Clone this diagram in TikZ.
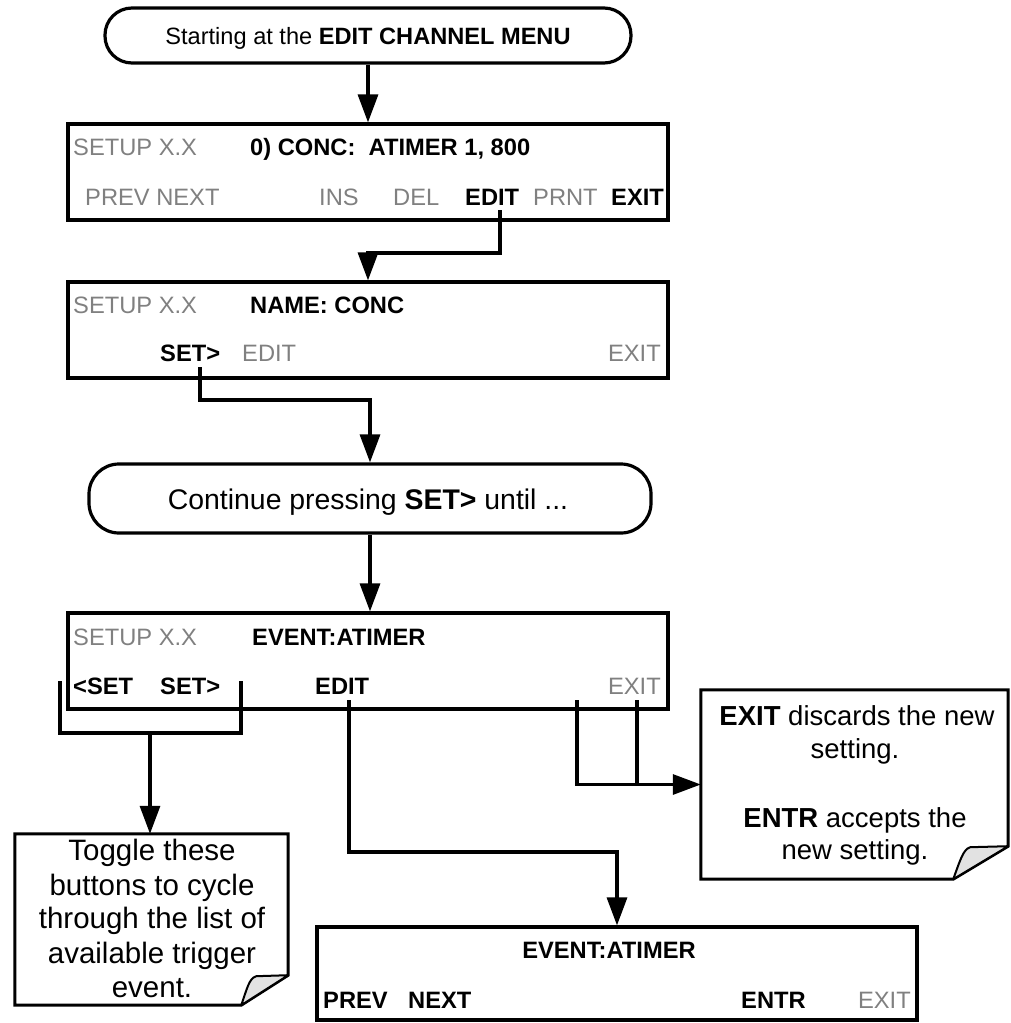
\documentclass[tikz,border=0pt]{standalone}
\usepackage{fontspec}
\setmainfont{Liberation Sans}
\usetikzlibrary{arrows.meta,calc}
\definecolor{lcdgray}{HTML}{808080}
\definecolor{foldgray}{HTML}{E2E2E2}
\begin{document}
\begin{tikzpicture}[x=1pt,y=-1pt,
  screen/.style={draw, line width=3.2pt, rectangle, minimum width=600pt, minimum height=96pt, inner sep=0pt},
  term/.style={draw, line width=3.2pt, rectangle, inner sep=0pt},
  lcdtext/.style={inner sep=0pt, font=\fontsize{23.7}{28}\selectfont},
  grtext/.style={lcdtext, text=lcdgray},
  bdtext/.style={inner sep=0pt, font=\fontsize{23.7}{28}\selectfont\bfseries},
  termtext/.style={inner sep=0pt, anchor=base},
  notebox/.style={rectangle, inner sep=0pt},
  noteline/.style={line width=3pt, line join=miter},
  foldline/.style={line width=2pt, fill=foldgray, line join=round},
  notetext/.style={inner sep=0pt, anchor=base, font=\fontsize{27.5}{32}\selectfont},
  toggletext/.style={inner sep=0pt, anchor=base, font=\fontsize{29.5}{34}\selectfont},
  conn/.style={line width=3.2pt},
  arr/.style={conn, -{Triangle[length=28pt,width=20pt]}}]
\useasboundingbox (0,0) rectangle (1010,1023);

% ---------- top terminator ----------
\node[term, rounded corners=27pt, minimum width=526pt, minimum height=55pt] (t1) at (368,35.5) {};
\node[termtext, font=\fontsize{23.6}{28}\selectfont] (t1txt) at (368,44) {Starting at the \textbf{EDIT CHANNEL MENU}};

% ---------- box 1 ----------
\node[screen] (b1) at (368,172) {};
\node[grtext, anchor=base west] (b1a) at (73,155.5) {SETUP X.X};
\node[bdtext, anchor=base west] (b1b) at (250,155.5) {0) CONC:\ \ ATIMER 1, 800};
\node[grtext, anchor=base west] (b1c) at (85,205.5) {PREV NEXT};
\node[grtext, anchor=base west] (b1d) at (319,205.5) {INS};
\node[grtext, anchor=base west] (b1e) at (393,205.5) {DEL};
\node[bdtext, anchor=base west] (b1edit) at (465,205.5) {EDIT};
\node[grtext, anchor=base west] (b1f) at (533,205.5) {PRNT};
\node[bdtext, anchor=base west] (b1g) at (611,205.5) {EXIT};

% ---------- box 2 ----------
\node[screen] (b2) at (368,330) {};
\node[grtext, anchor=base west] (b2a) at (73,313.5) {SETUP X.X};
\node[bdtext, anchor=base west] (b2b) at (250,313.5) {NAME: CONC};
\node[bdtext, anchor=base west] (b2set) at (160,361.5) {SET>};
\node[grtext, anchor=base west] (b2c) at (242,361.5) {EDIT};
\node[grtext, anchor=base east] (b2d) at (661,361.5) {EXIT};

% ---------- second terminator ----------
\node[term, rounded corners=30pt, minimum width=562pt, minimum height=69pt] (t2) at (370,498.5) {};
\node[termtext, font=\fontsize{28.4}{32}\selectfont] (t2txt) at (368,509) {Continue pressing \textbf{SET>} until ...};

% ---------- box 3 ----------
\node[screen] (b3) at (368,661) {};
\node[grtext, anchor=base west] (b3a) at (73,645.5) {SETUP X.X};
\node[bdtext, anchor=base west] (b3b) at (252,645.5) {EVENT:ATIMER};
\node[bdtext, anchor=base west] (b3c) at (73,694.5) {<SET};
\node[bdtext, anchor=base west] (b3d) at (160,694.5) {SET>};
\node[bdtext, anchor=base west] (b3edit) at (315,694.5) {EDIT};
\node[grtext, anchor=base east] (b3exit) at (661,694.5) {EXIT};

% ---------- bottom box ----------
\node[screen, minimum height=93pt] (b4) at (617,973.5) {};
\node[bdtext, anchor=base] (b4a) at (609,958.5) {EVENT:ATIMER};
\node[bdtext, anchor=base west] (b4b) at (323,1008.5) {PREV};
\node[bdtext, anchor=base west] (b4c) at (408,1008.5) {NEXT};
\node[bdtext, anchor=base west] (b4d) at (741,1008.5) {ENTR};
\node[grtext, anchor=base east] (b4e) at (911,1008.5) {EXIT};

% ---------- right note ----------
\node[notebox, minimum width=307pt, minimum height=189pt] (n1) at (854.5,784.5) {};
\draw[noteline] (n1.north west) -- (n1.north east) -- ($(n1.south east)+(0,-33)$)
  -- ($(n1.south east)+(-55,0)$) -- (n1.south west) -- cycle;
\draw[foldline] ($(n1.south east)+(-55,0)$) .. controls ($(n1.south east)+(-48,-19)$) and ($(n1.south east)+(-45,-30)$) .. ($(n1.south east)+(-38,-32)$)
  -- ($(n1.south east)+(0,-33)$) -- cycle;
\node[notetext] (n1l1) at (857,725) {\textbf{EXIT} discards the new};
\node[notetext] (n1l2) at (855,758) {setting.};
\node[notetext] (n1l3) at (855,827) {\textbf{ENTR} accepts the};
\node[notetext] (n1l4) at (855,859) {new setting.};

% ---------- left note ----------
\node[notebox, minimum width=273pt, minimum height=171pt] (n2) at (151.5,919.5) {};
\draw[noteline] (n2.north west) -- (n2.north east) -- ($(n2.south east)+(0,-30)$)
  -- ($(n2.south east)+(-47,0)$) -- (n2.south west) -- cycle;
\draw[foldline] ($(n2.south east)+(-47,0)$) .. controls ($(n2.south east)+(-41,-17)$) and ($(n2.south east)+(-39,-27)$) .. ($(n2.south east)+(-32,-29)$)
  -- ($(n2.south east)+(0,-30)$) -- cycle;
\node[toggletext] (n2l1) at (152,860) {Toggle these};
\node[toggletext] (n2l2) at (152,895) {buttons to cycle};
\node[toggletext] (n2l3) at (152,928) {through the list of};
\node[toggletext] (n2l4) at (152,963) {available trigger};
\node[toggletext] (n2l5) at (152,997) {event.};

% ---------- connectors ----------
\draw[arr] (t1.south) -- (t1.south |- b1.north);

\coordinate (c1) at (500,210);
\draw[arr] (c1) -- ++(0,43) -| (b2.north);

\coordinate (c2) at (200,367);
\draw[arr] (c2) -- ++(0,33) -| (t2.north);

\draw[arr] (t2.south) -- (t2.south |- b3.north);

% bracket under <SET SET>
\coordinate (k1) at (60,681);
\coordinate (k2) at (241,681);
\coordinate (k3) at (150,733);
\draw[conn] (k1) -- (k1 |- k3) -- (k2 |- k3) -- (k2);
\draw[arr] (k3) -- (k3 |- n2.north);

% EDIT to bottom box
\coordinate (c3) at (349,700);
\draw[arr] (c3) -- (349,852) -| (b4.north);

% EXIT bracket to note
\coordinate (e1) at (577,700);
\coordinate (e2) at (637,700);
\draw[conn] (e2) -- (e2 |- n1.west);
\draw[arr] (e1) |- (n1.west);
\end{tikzpicture}
\end{document}
